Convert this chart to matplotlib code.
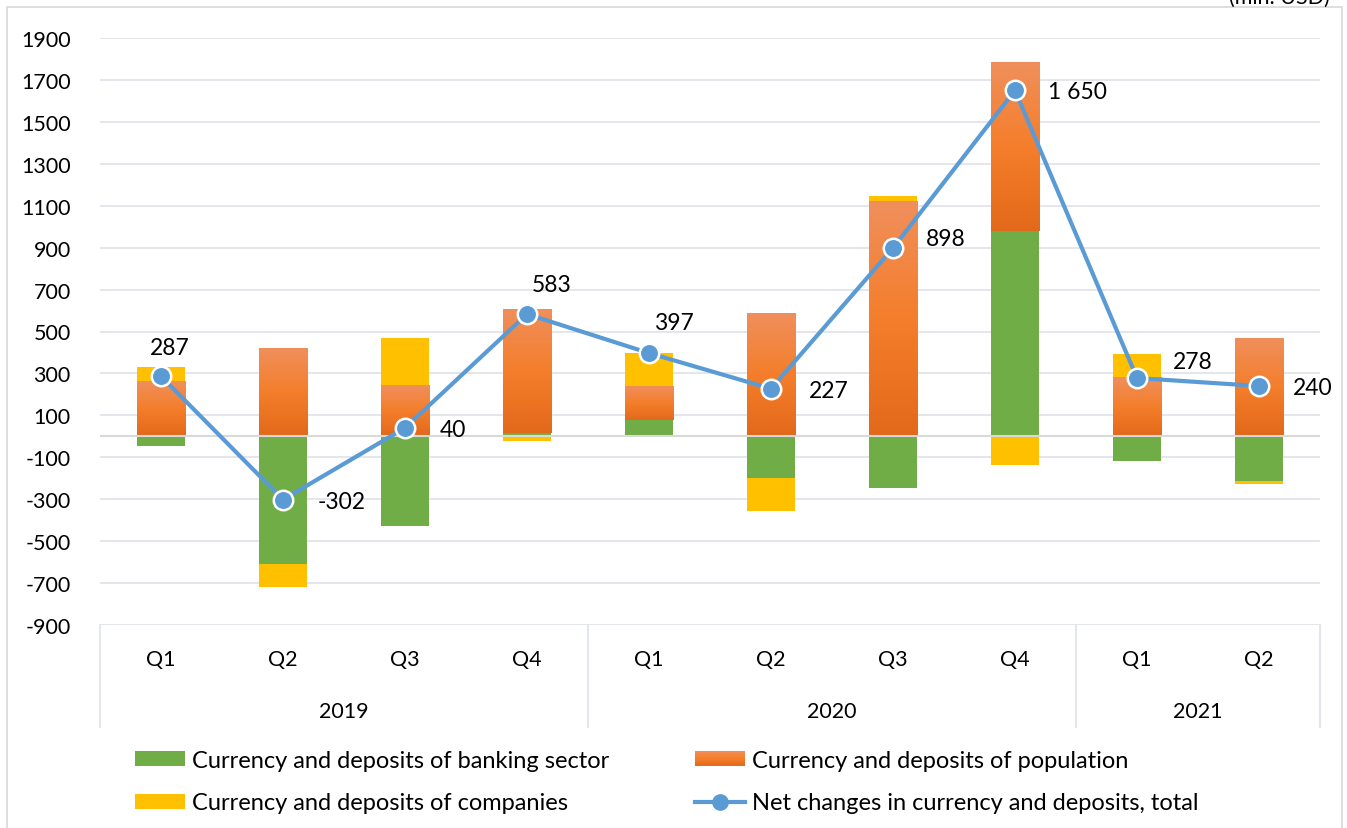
import numpy as np
import matplotlib
matplotlib.use("Agg")
import matplotlib.pyplot as plt
from matplotlib.patches import Rectangle
from matplotlib.legend_handler import HandlerBase
from matplotlib.lines import Line2D
from matplotlib.colors import LinearSegmentedColormap

plt.rcParams['font.family'] = ['Lato', 'DejaVu Sans']

# ---------------- data ----------------
quarters = ["Q1", "Q2", "Q3", "Q4", "Q1", "Q2", "Q3", "Q4", "Q1", "Q2"]
years = ["2019", "2020", "2021"]
year_counts = [4, 4, 2]
banking = [-45, -609, -428, 15, 79, -199, -247, 981, -116, -212]
population = [258, 415, 240, 588, 162, 582, 1118, 804, 278, 466]
companies = [74, -108, 228, -20, 156, -156, 27, -135, 116, -14]
total = [287, -302, 40, 583, 397, 227, 898, 1650, 278, 240]
yticks = list(range(-900, 2000, 200))

label_banking = "Currency and deposits of banking sector"
label_population = "Currency and deposits of population"
label_companies = "Currency and deposits of companies"
label_total = "Net changes in currency and deposits, total"
unit_text = "(mln. USD)"

# label offsets in pixels (left edge of text relative to point)
label_offsets = [(-11, 29), (35, -2), (35, -2), (5, 30), (5, 31),
                 (38, -2), (33, 10), (33, -1), (36, 17), (34, -1)]

GREEN = "#70AD47"
YELLOW = "#FFC000"
BLUE = "#5B9BD5"
GRID = "#DEE2E8"
FS = 15.5
LFS = 17

orange_cmap = LinearSegmentedColormap.from_list(
    "org", ["#E3691A", "#F47E2B", "#F08F5C"])

W, H = 1347, 829
fig = plt.figure(figsize=(W / 100, H / 100), dpi=100)
ax = fig.add_axes([100 / W, 1 - 626 / H, 1220 / W, 587 / H])

x = np.arange(len(quarters))
bw = 0.40

# stacking: positive and negative separately in series order
pos_base = np.zeros(len(x))
neg_base = np.zeros(len(x))

def stack(vals):
    vals = np.asarray(vals, dtype=float)
    bottoms = np.where(vals >= 0, pos_base, neg_base)
    return vals, bottoms

def advance(vals):
    global pos_base, neg_base
    vals = np.asarray(vals, dtype=float)
    pos_base = pos_base + np.where(vals > 0, vals, 0)
    neg_base = neg_base + np.where(vals < 0, vals, 0)

v, b = stack(banking)
ax.bar(x, v, bw, bottom=b, color=GREEN, zorder=2)
advance(banking)

v, b = stack(population)
pop_bars = ax.bar(x, v, bw, bottom=b, color="none", zorder=2)
advance(population)

v, b = stack(companies)
ax.bar(x, v, bw, bottom=b, color=YELLOW, zorder=2)
advance(companies)

grad = np.linspace(0, 1, 256).reshape(-1, 1)
for r in pop_bars:
    x0, y0, w, h = r.get_x(), r.get_y(), r.get_width(), r.get_height()
    ylo, yhi = min(y0, y0 + h), max(y0, y0 + h)
    ax.imshow(grad, extent=[x0, x0 + w, ylo, yhi], origin="lower",
              aspect="auto", cmap=orange_cmap, zorder=2.05,
              interpolation="bilinear")

# line
ax.plot(x, total, color=BLUE, lw=3, marker="o", markersize=14,
        markerfacecolor=BLUE, markeredgecolor="white", markeredgewidth=1.8,
        zorder=4, solid_capstyle="round")

for xi, t, (dx, dy) in zip(x, total, label_offsets):
    ax.annotate(f"{t:,}".replace(",", " "), (xi, t), xytext=(dx, dy),
                textcoords="offset pixels", ha="left", va="center",
                fontsize=FS + 1, color="black", zorder=5)

ax.set_xlim(-0.5, len(x) - 0.5)
ax.set_ylim(-900, 1900)
ax.set_yticks(yticks)
ax.set_yticklabels([str(t) for t in yticks])
ax.tick_params(axis="y", length=0, pad=21, labelsize=FS, labelcolor="black")
ax.set_xticks([])
for s in ax.spines.values():
    s.set_visible(False)
ax.yaxis.grid(True, color=GRID, lw=1.2, zorder=0)
ax.set_axisbelow(True)
ax.axhline(0, color="#D9D9D9", lw=1.5, zorder=2.5)

# multi-level category axis
trans = ax.get_xaxis_transform()
sep_bottom = -102 / 587
for xi, q in zip(x, quarters):
    ax.text(xi, -34 / 587, q, transform=trans, ha="center", va="center",
            fontsize=FS, color="black", clip_on=False)
edges = np.concatenate([[0], np.cumsum(year_counts)]) - 0.5
for e in edges:
    ax.plot([e, e], [0, sep_bottom], transform=trans, color=GRID, lw=1.2,
            clip_on=False, zorder=1)
for i, yr in enumerate(years):
    ax.text((edges[i] + edges[i + 1]) / 2, -86 / 587, yr, transform=trans,
            ha="center", va="center", fontsize=FS, color="black",
            clip_on=False)

# legend
class GradientHandler(HandlerBase):
    def create_artists(self, legend, orig_handle, xdescent, ydescent,
                       width, height, fontsize, trans):
        arts = []
        n = 12
        for i in range(n):
            c = orange_cmap(1 - (i + 0.5) / n)
            arts.append(Rectangle((-xdescent, -ydescent + height * (n - 1 - i) / n),
                                  width, height / n + 0.3, facecolor=c,
                                  edgecolor="none", transform=trans))
        return arts

h_bank = Rectangle((0, 0), 1, 1, facecolor=GREEN)
h_comp = Rectangle((0, 0), 1, 1, facecolor=YELLOW)
h_pop = Rectangle((0, 0), 1, 1, facecolor="#F07C2C")
h_tot = Line2D([], [], color=BLUE, lw=3, marker="o", markersize=11,
               markerfacecolor=BLUE, markeredgecolor=BLUE)

leg_kw = dict(frameon=False, fontsize=LFS, handlelength=50 / (LFS * 100 / 72),
              handleheight=0.62, handletextpad=7 / (LFS * 100 / 72),
              labelspacing=0.91, borderpad=0, borderaxespad=0,
              loc="upper left")
leg1 = fig.legend([h_bank, h_comp], [label_banking, label_companies],
                  bbox_to_anchor=(135 / W, 1 - 751 / H), **leg_kw)
leg2 = fig.legend([h_pop, h_tot], [label_population, label_total],
                  bbox_to_anchor=(695 / W, 1 - 751 / H),
                  handler_map={h_pop: GradientHandler()}, **leg_kw)

# chart border and unit label
fig.patches.append(Rectangle((7 / W, -0.05), (1342 - 7) / W, 1.05 - 8 / H,
                             transform=fig.transFigure, fill=False,
                             edgecolor="#D9D9D9", lw=1.2))
fig.text(1330 / W, 1 + 2 / H, unit_text, ha="right", va="center",
         fontsize=FS, color="black")

fig.savefig("out.png", dpi=100)
